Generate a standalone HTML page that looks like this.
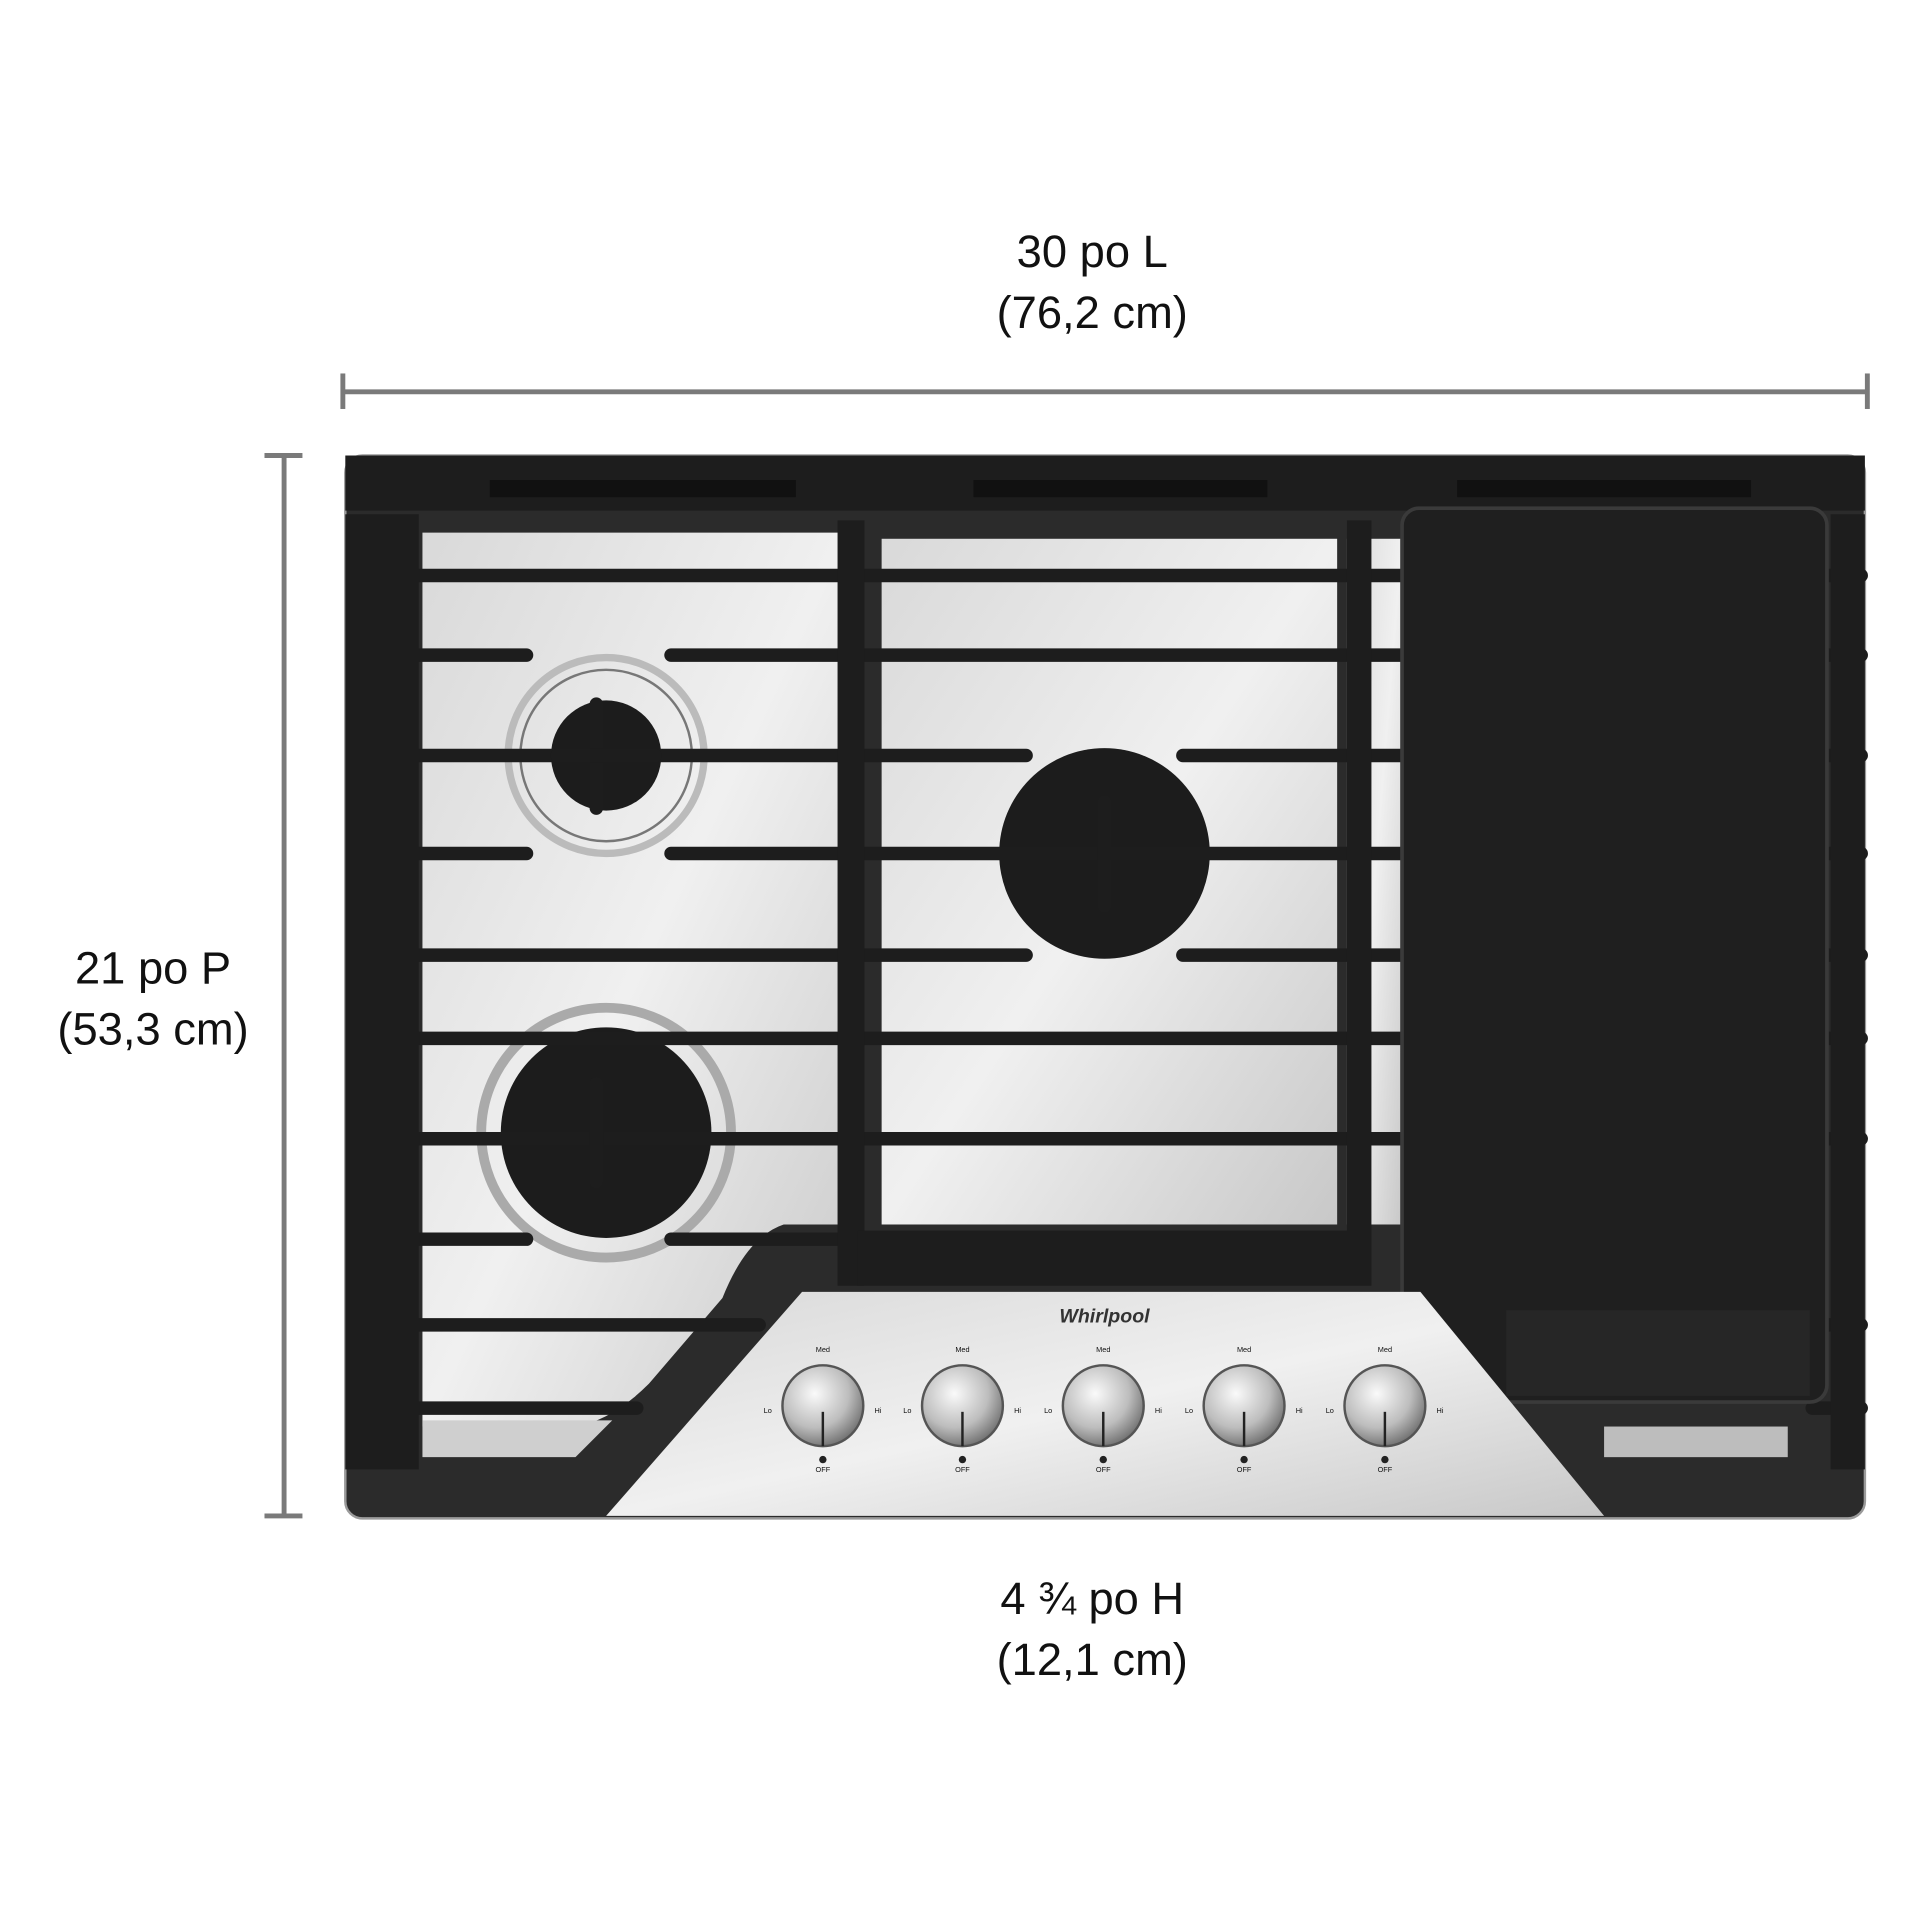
<!DOCTYPE html>
<html><head><meta charset="utf-8"><style>
html,body{margin:0;padding:0;background:#fff;}
svg{display:block}
text{font-family:"Liberation Sans",Arial,sans-serif;fill:#111;}
</style></head><body>
<svg width="1920" height="1920" viewBox="0 0 1568 1568" xmlns="http://www.w3.org/2000/svg">
<defs>
<linearGradient id="ss" x1="0" y1="0" x2="1" y2="1">
<stop offset="0" stop-color="#d9d9d9"/><stop offset="0.5" stop-color="#f0f0f0"/><stop offset="1" stop-color="#c8c8c8"/>
</linearGradient>
<radialGradient id="kn" cx="0.4" cy="0.35" r="0.7">
<stop offset="0" stop-color="#fafafa"/><stop offset="0.6" stop-color="#bdbdbd"/><stop offset="1" stop-color="#6a6a6a"/>
</radialGradient>
</defs>
<g font-size="37" text-anchor="middle">
<text x="892" y="218">30 po L</text>
<text x="892" y="268">(76,2 cm)</text>
<text x="125" y="803">21 po P</text>
<text x="125" y="853">(53,3 cm)</text>
<text x="892" y="1318">4 ¾ po H</text>
<text x="892" y="1368">(12,1 cm)</text>
</g>
<g stroke="#7a7a7a" stroke-width="4" fill="none">
<line x1="280" y1="320" x2="1525" y2="320"/>
<line x1="280" y1="305" x2="280" y2="334"/>
<line x1="1525" y1="305" x2="1525" y2="334"/>
<line x1="232" y1="372" x2="232" y2="1238"/>
<line x1="216" y1="372" x2="247" y2="372"/>
<line x1="216" y1="1238" x2="247" y2="1238"/>
</g>
<rect x="282" y="372" width="1241" height="868" rx="14" fill="#2b2b2b" stroke="#9a9a9a" stroke-width="2"/>
<path d="M345 435 H690 V1000 H640 Q610 1010 590 1060 L530 1130 Q500 1160 470 1165 H345 Z" fill="url(#ss)"/>
<rect x="720" y="440" width="372" height="560" fill="url(#ss)"/>
<rect x="1100" y="440" width="45" height="560" fill="url(#ss)"/>
<path d="M345 1160 H500 L470 1190 H345 Z" fill="#cfcfcf"/>
<rect x="1310" y="1165" width="150" height="25" fill="#bdbdbd"/>
<circle cx="495" cy="617" r="80" fill="none" stroke="#bbb" stroke-width="6"/>
<circle cx="495" cy="617" r="70" fill="none" stroke="#777" stroke-width="2"/>
<circle cx="495" cy="617" r="45" fill="#1c1c1c"/>
<circle cx="495" cy="925" r="102" fill="none" stroke="#aaa" stroke-width="8"/>
<circle cx="495" cy="925" r="86" fill="#1c1c1c"/>
<circle cx="902" cy="697" r="86" fill="#1c1c1c"/>
<g stroke="#1d1d1d" stroke-width="11" stroke-linecap="round">
<line x1="288" y1="470" x2="1520" y2="470"/>
<line x1="288" y1="535" x2="430" y2="535"/><line x1="548" y1="535" x2="1520" y2="535"/>
<line x1="288" y1="617" x2="838" y2="617"/><line x1="966" y1="617" x2="1520" y2="617"/>
<line x1="288" y1="697" x2="430" y2="697"/><line x1="548" y1="697" x2="1520" y2="697"/>
<line x1="288" y1="780" x2="838" y2="780"/><line x1="966" y1="780" x2="1520" y2="780"/>
<line x1="288" y1="848" x2="1520" y2="848"/>
<line x1="288" y1="930" x2="1520" y2="930"/>
<line x1="288" y1="1012" x2="430" y2="1012"/><line x1="548" y1="1012" x2="690" y2="1012"/>
<line x1="288" y1="1082" x2="620" y2="1082"/>
<line x1="288" y1="1150" x2="520" y2="1150"/>
<line x1="1480" y1="1082" x2="1520" y2="1082"/><line x1="1480" y1="1150" x2="1520" y2="1150"/>
<line x1="487" y1="575" x2="487" y2="660"/><line x1="455" y1="617" x2="535" y2="617"/>
<line x1="487" y1="885" x2="487" y2="965"/>
<line x1="902" y1="655" x2="902" y2="740"/>
</g>
<g fill="#1d1d1d">
<rect x="684" y="425" width="22" height="625"/>
<rect x="1100" y="425" width="20" height="625"/>
<rect x="700" y="1005" width="400" height="45"/>
<rect x="282" y="372" width="1241" height="45"/>
<rect x="282" y="420" width="60" height="780"/>
<rect x="1495" y="420" width="28" height="780"/>
</g>
<g fill="#111">
<rect x="400" y="392" width="250" height="14"/>
<rect x="795" y="392" width="240" height="14"/>
<rect x="1190" y="392" width="240" height="14"/>
</g>
<rect x="1145" y="415" width="347" height="730" rx="14" fill="#1f1f1f" stroke="#3a3a3a" stroke-width="3"/>
<rect x="1230" y="1070" width="248" height="70" fill="#262626"/>
<path d="M655 1055 H1160 L1310 1238 H495 Z" fill="url(#ss)"/>
<text x="902" y="1080" font-size="16" text-anchor="middle" font-style="italic" font-weight="bold" style="fill:#333">Whirlpool</text>
<g font-size="6" text-anchor="middle" style="fill:#444">
<g transform="translate(672,1148)"><circle r="33" fill="url(#kn)" stroke="#555" stroke-width="2"/><line x1="0" y1="5" x2="0" y2="33" stroke="#222" stroke-width="2"/><circle cy="44" r="3" fill="#222"/><text y="-44">Med</text><text x="-45" y="6">Lo</text><text x="45" y="6">Hi</text><text y="54">OFF</text></g>
<g transform="translate(786,1148)"><circle r="33" fill="url(#kn)" stroke="#555" stroke-width="2"/><line x1="0" y1="5" x2="0" y2="33" stroke="#222" stroke-width="2"/><circle cy="44" r="3" fill="#222"/><text y="-44">Med</text><text x="-45" y="6">Lo</text><text x="45" y="6">Hi</text><text y="54">OFF</text></g>
<g transform="translate(901,1148)"><circle r="33" fill="url(#kn)" stroke="#555" stroke-width="2"/><line x1="0" y1="5" x2="0" y2="33" stroke="#222" stroke-width="2"/><circle cy="44" r="3" fill="#222"/><text y="-44">Med</text><text x="-45" y="6">Lo</text><text x="45" y="6">Hi</text><text y="54">OFF</text></g>
<g transform="translate(1016,1148)"><circle r="33" fill="url(#kn)" stroke="#555" stroke-width="2"/><line x1="0" y1="5" x2="0" y2="33" stroke="#222" stroke-width="2"/><circle cy="44" r="3" fill="#222"/><text y="-44">Med</text><text x="-45" y="6">Lo</text><text x="45" y="6">Hi</text><text y="54">OFF</text></g>
<g transform="translate(1131,1148)"><circle r="33" fill="url(#kn)" stroke="#555" stroke-width="2"/><line x1="0" y1="5" x2="0" y2="33" stroke="#222" stroke-width="2"/><circle cy="44" r="3" fill="#222"/><text y="-44">Med</text><text x="-45" y="6">Lo</text><text x="45" y="6">Hi</text><text y="54">OFF</text></g>
</g>
</svg>
</body></html>
